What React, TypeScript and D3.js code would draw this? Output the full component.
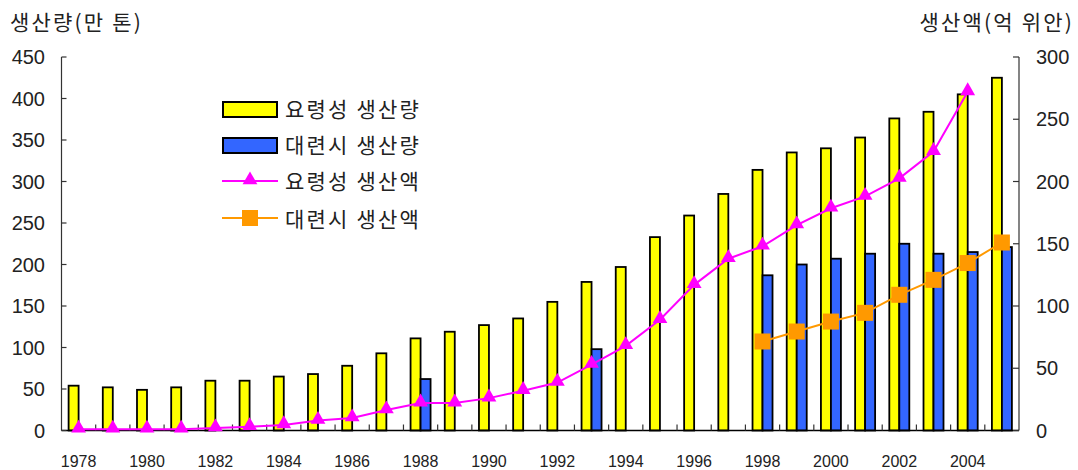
import React from "react";
import * as d3 from "d3";

const years = [1978,1979,1980,1981,1982,1983,1984,1985,1986,1987,1988,1989,1990,1991,1992,1993,1994,1995,1996,1997,1998,1999,2000,2001,2002,2003,2004,2005];
const liaoningOutput = [54,52,49,52,60,60,65,68,78,93,111,119,127,135,155,179,197,233,259,285,314,335,340,353,376,384,405,425];
const dalianOutput: (number | null)[] = [null,null,null,null,null,null,null,null,null,null,62,null,null,null,null,98,null,null,null,null,187,200,207,213,225,213,215,221];
const liaoningValue: (number | null)[] = [1,1,1,1,2,3,4.5,8,10,16.5,22,22,26,32,38.5,53,68,89,117,138,148,165,178.5,188,202.5,224,272,null];
const dalianValue: (number | null)[] = [null,null,null,null,null,null,null,null,null,null,null,null,null,null,null,null,null,null,null,null,71.5,79.5,87.5,94.5,109,121,134.5,151];
const leftTicks = [0,50,100,150,200,250,300,350,400,450];
const rightTicks = [0,50,100,150,200,250,300];
const xLabelYears = [1978,1980,1982,1984,1986,1988,1990,1992,1994,1996,1998,2000,2002,2004];
const leftTitle = "생산량(만 톤)";
const rightTitle = "생산액(억 위안)";
const legendItems = ["요령성 생산량", "대련시 생산량", "요령성 생산액", "대련시 생산액"];

const W = 1078, H = 470;
const X0 = 61.5, X1 = 1019, Y0 = 430.5, YTOP = 57;
const KR = "'Noto Sans CJK KR', sans-serif";
const NUM = "'Liberation Sans', Arial, sans-serif";
const YELLOW = "#FFFF00", BLUE = "#3366FF", MAGENTA = "#FF00FF", ORANGE = "#FF9900";

export default function App() {
  const x = d3.scaleBand<number>().domain(years).range([X0, X1]).paddingInner(0).paddingOuter(0);
  const bw = x.bandwidth();
  const x1 = d3.scaleBand<string>().domain(["l", "d"]).range([0, bw]).paddingInner(0).paddingOuter(0.71);
  const yL = d3.scaleLinear().domain([0, 450]).range([Y0, YTOP]);
  const yR = d3.scaleLinear().domain([0, 300]).range([Y0, YTOP]);
  const cx = (yr: number) => (x(yr) as number) + bw / 2;

  const lineGen = d3.line<[number, number | null]>()
    .defined(d => d[1] != null)
    .x(d => cx(d[0]))
    .y(d => yR(d[1] as number));

  const lPts = years.map((yr, i) => [yr, liaoningValue[i]] as [number, number | null]);
  const dPts = years.map((yr, i) => [yr, dalianValue[i]] as [number, number | null]);
  const tri = d3.symbol().type(d3.symbolTriangle).size(95)() as string;

  return (
    <svg width={W} height={H} style={{ position: "absolute", left: 0, top: 0, background: "#fff" }}>
      {/* axis titles */}
      <text x={10} y={30} fontFamily={KR} fontSize={21} letterSpacing={2.2} fill="#222">{leftTitle}</text>
      <text x={1074} y={30} fontFamily={KR} fontSize={21} letterSpacing={2.2} fill="#222" textAnchor="end">{rightTitle}</text>

      {/* bars */}
      {years.map((yr, i) => (
        <rect key={"l" + yr} x={(x(yr) as number) + (x1("l") as number)} y={yL(liaoningOutput[i])}
          width={x1.bandwidth()} height={Y0 - yL(liaoningOutput[i])} fill={YELLOW} stroke="#000" strokeWidth={1.8} />
      ))}
      {years.map((yr, i) => dalianOutput[i] == null ? null : (
        <rect key={"d" + yr} x={(x(yr) as number) + (x1("d") as number)} y={yL(dalianOutput[i] as number)}
          width={x1.bandwidth()} height={Y0 - yL(dalianOutput[i] as number)} fill={BLUE} stroke="#000" strokeWidth={1.8} />
      ))}

      {/* axes */}
      <line x1={X0} x2={X0} y1={YTOP} y2={Y0} stroke="#333" strokeWidth={1.2} />
      <line x1={X1} x2={X1} y1={YTOP} y2={Y0} stroke="#333" strokeWidth={1.2} />
      <line x1={X0} x2={X1} y1={Y0} y2={Y0} stroke="#000" strokeWidth={1.6} />
      {leftTicks.map(t => (
        <g key={"lt" + t}>
          <line x1={X0} x2={X0 + 5} y1={yL(t)} y2={yL(t)} stroke="#333" strokeWidth={1.2} />
          <text x={45} y={yL(t)} dy="0.36em" textAnchor="end" fontFamily={NUM} fontSize={20} fill="#222">{t}</text>
        </g>
      ))}
      {rightTicks.map(t => (
        <g key={"rt" + t}>
          <line x1={X1 - 6} x2={X1} y1={yR(t)} y2={yR(t)} stroke="#333" strokeWidth={1.2} />
          <text x={1036} y={yR(t)} dy="0.36em" textAnchor="start" fontFamily={NUM} fontSize={20} fill="#222">{t}</text>
        </g>
      ))}
      {years.slice(1).map(yr => (
        <line key={"xt" + yr} x1={x(yr) as number} x2={x(yr) as number} y1={Y0 - 6} y2={Y0} stroke="#333" strokeWidth={1.2} />
      ))}
      {xLabelYears.map(yr => (
        <text key={"xl" + yr} x={cx(yr)} y={467} textAnchor="middle" fontFamily={NUM} fontSize={16} fill="#222">{yr}</text>
      ))}

      {/* lines */}
      <path d={lineGen(lPts) as string} fill="none" stroke={MAGENTA} strokeWidth={2} />
      <path d={lineGen(dPts) as string} fill="none" stroke={ORANGE} strokeWidth={2} />
      {lPts.filter(d => d[1] != null).map(d => (
        <path key={"tm" + d[0]} d={tri} transform={`translate(${cx(d[0])},${yR(d[1] as number) - 1})`} fill={MAGENTA} />
      ))}
      {dPts.filter(d => d[1] != null).map(d => (
        <rect key={"sq" + d[0]} x={cx(d[0]) - 8} y={yR(d[1] as number) - 8} width={16} height={16} fill={ORANGE} />
      ))}

      {/* legend */}
      <g>
        <rect x={223} y={102} width={54} height={15} fill={YELLOW} stroke="#000" strokeWidth={2} />
        <rect x={223} y={138} width={54} height={15} fill={BLUE} stroke="#000" strokeWidth={2} />
        <line x1={222} x2={278} y1={181} y2={181} stroke={MAGENTA} strokeWidth={2} />
        <path d={tri} transform="translate(250,180)" fill={MAGENTA} />
        <line x1={222} x2={278} y1={218} y2={218} stroke={ORANGE} strokeWidth={2} />
        <rect x={242} y={210} width={16} height={16} fill={ORANGE} />
        {legendItems.map((t, i) => (
          <text key={t} x={285} y={[109, 145, 181.5, 219][i]} dy="0.36em" fontFamily={KR} fontSize={21} letterSpacing={2.2} fill="#222">{t}</text>
        ))}
      </g>
    </svg>
  );
}
